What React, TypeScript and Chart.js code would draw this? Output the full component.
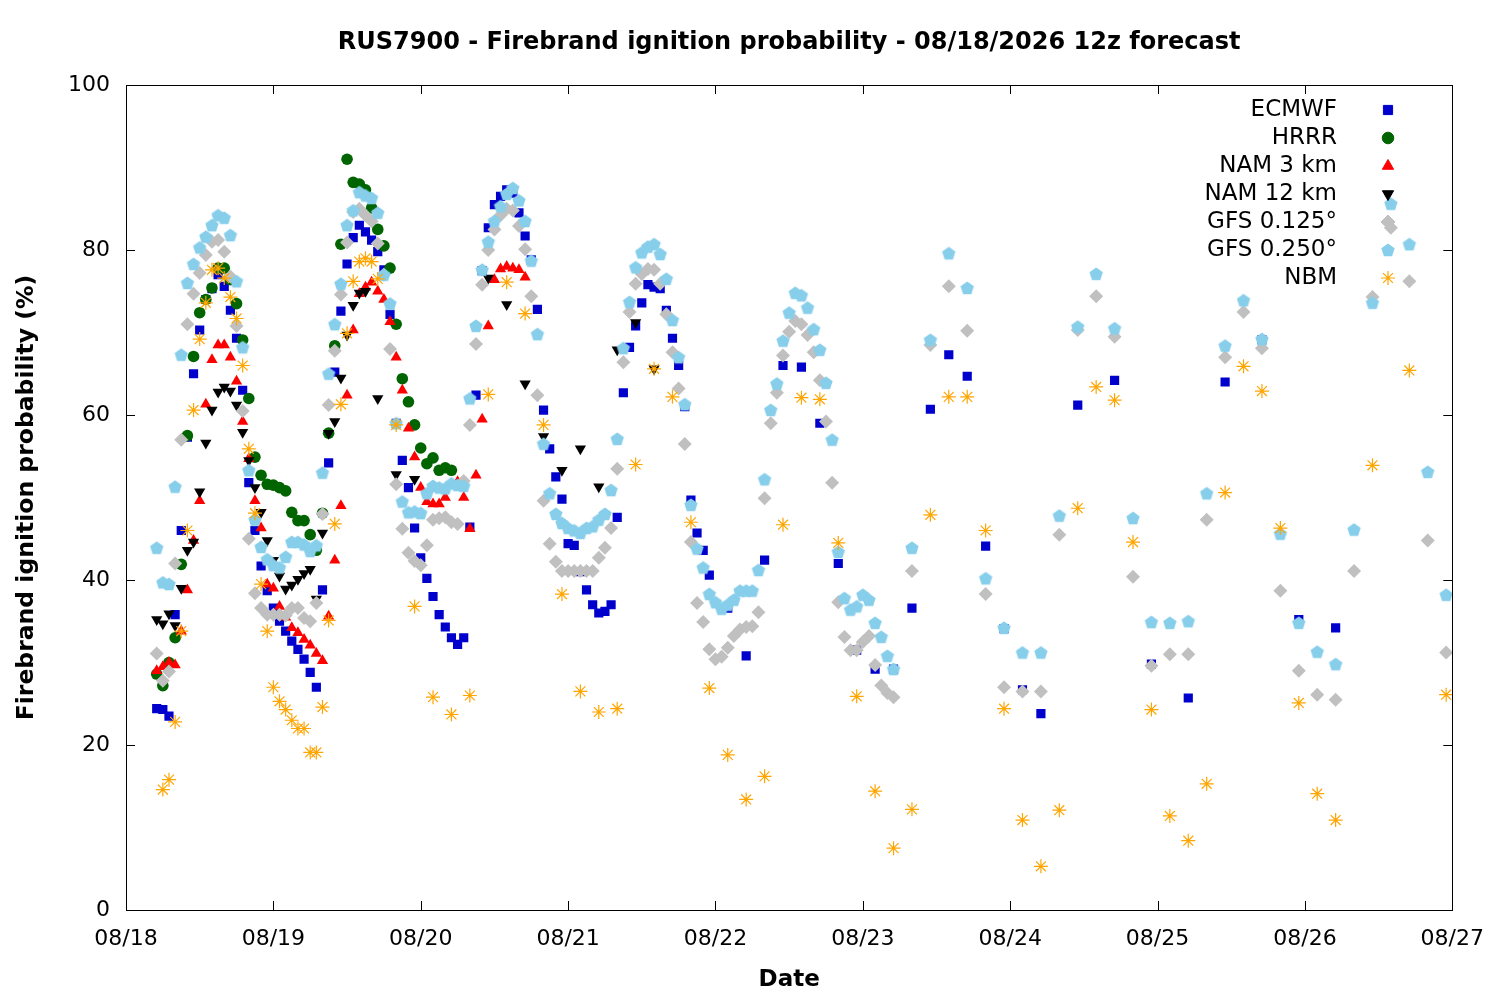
import React, { useEffect, useRef } from "react";
import { Chart, registerables } from "chart.js";
import { drawPoint } from "chart.js/helpers";

Chart.register(...registerables);

const range = (start: number, step: number, n: number) => Array.from({ length: n }, (_, i) => start + i * step);

const TITLE = "RUS7900 - Firebrand ignition probability - 08/18/2026 12z forecast";
const DATE_LABELS = ["08/18", "08/19", "08/20", "08/21", "08/22", "08/23", "08/24", "08/25", "08/26", "08/27"];
const Y_TICKS = [0, 20, 40, 60, 80, 100];

const ECMWF_HOURS = [...range(5, 1, 91), ...range(98, 3, 18), ...range(155, 6, 8)];
const ECMWF = [
  24.4, 24.3, 23.5, 35.8, 46, 57.3, 65, 70.3, 74, 75.3,
  77, 75.6, 72.7, 69.3, 63, 51.8, 46, 41.7, 38.7, 36.6,
  35, 33.8, 32.6, 31.6, 30.4, 28.8, 27, 38.8, 54.2, 65.2,
  72.6, 78.3, 81.5, 83, 82.2, 81.2, 79.8, 77.6, 72.2, 59,
  54.5, 51.2, 46.3, 42.7, 40.2, 38, 35.8, 34.3, 33, 32.2,
  33, 46.4, 62.4, 77.5, 82.7, 85.5, 86.5, 87.3, 86.9, 84.5,
  81.7, 78.8, 72.8, 60.6, 55.9, 52.5, 49.8, 44.4,
  44.2, 41, 38.8, 37, 36, 36.2, 37, 47.6, 62.7, 68.2, 70.8, 73.6, 75.8, 75.5, 75.3, 72.7, 69.3, 66, 61, 49.7, 45.7, 43.6, 40.6,
  36.6, 30.8, 42.4, 66, 65.8, 59, 42, 31.5, 29.2, 29.2, 36.6, 60.7, 67.3, 64.7, 44.1, 34.1, 26.7, 23.8,
  61.2, 64.2, 29.8, 25.7, 64, 69.1, 35.2, 34.2,
];

const HRRR_HOURS = range(5, 1, 49);
const HRRR = [
  28.6, 27.2, 30, 33, 41.9, 57.5, 67.1, 72.4, 74, 75.4,
  77.8, 77.8, 76.4, 73.5, 69.1, 62, 54.9, 52.7, 51.6, 51.5,
  51.2, 50.8, 48.2, 47.2, 47.2, 45.5, 43.6, 48.1, 57.8, 68.4,
  80.7, 91, 88.2, 88, 87.3, 85.1, 82.5, 80.5, 77.8, 71,
  64.4, 61.6, 58.8, 56, 54.1, 54.8, 53.3, 53.6, 53.3,
];

const NAM3_HOURS = range(5, 1, 61);
const NAM3 = [
  29, 29.5, 30, 29.7, 33.8, 38.8, 44.8, 49.6, 61.3, 66.7,
  68.5, 68.5, 67, 64.1, 59.2, 54.7, 49.6, 46.3, 39.5, 39,
  36.8, 35.5, 34.2, 33.6, 32.8, 32.1, 31.1, 30.2, 35.6, 42.4,
  49, 62.4, 70.3, 74.7, 75.5, 76.1, 75, 74, 71.3, 67,
  63, 58.4, 54.9, 51.2, 49.5, 49.2, 49.2, 50, 51.6, 51.9,
  50, 46.2, 52.7, 59.5, 70.8, 76.4, 77.7, 78, 77.8, 77.6, 76.7,
];

const NAM12_HOURS = [...range(5, 1, 35), 41, 44, 47, 59, 62, 65, 68, 71, 74, 77, 80, 83, 86];
const NAM12 = [
  35.2, 34.7, 35.9, 34.5, 39, 43.6, 44.6, 50.7, 56.6, 60.6,
  62.8, 63.4, 62.9, 61.2, 57.9, 54.5, 51.2, 48.2, 44.8, 42.4,
  40.5, 38.9, 39.4, 40.1, 40.8, 41.3, 37.7, 45.7, 57.8, 59.2,
  64.5, 69.7, 73.3, 74.8, 75,
  62, 52.8, 52.2, 76.6, 73.4, 63.8, 57.4, 53.3, 55.9, 51.3, 67.9, 71.2, 65.6,
];

const GFS_HOURS = [...range(5, 1, 121), ...range(128, 3, 30)];
const GFS0125 = [
  31.1, 27.8, 28.9, 42, 57, 71, 74.7, 77.2, 79.4, 81,
  81.2, 79.8, 76.8, 70.8, 60.5, 45, 38.4, 36.6, 35.8, 35.8,
  35.8, 35.7, 36.6, 36.6, 35.4, 35, 37.2, 48, 61.2, 67.8,
  74.6, 80.9, 84.6, 85, 84.2, 83.5, 80.8, 77, 68, 51.6,
  46.2, 43.3, 42.3, 41.8, 44.2, 47.3, 47.5, 47.6, 47, 46.8,
  52, 58.8, 68.6, 75.8, 80, 82.5, 84.2, 85, 84.8, 82.9,
  80.1, 74.4, 62.4, 49.6, 44.4, 42.2, 41.1, 41.1, 41.1, 41.1,
  41.1, 41.1, 42.7, 43.9, 46.3, 53.5, 66.4, 72.5, 75.9, 77.1,
  77.7, 77.6, 75.9, 72.2, 67.6, 63.2, 56.5, 44.6, 37.2, 34.9,
  31.6, 30.4, 30.7, 31.8, 33.2, 34, 34.3, 34.4, 36.1, 49.9,
  59, 62.7, 67.2, 70.1, 71.4, 71, 69.7, 67.6, 64.2, 59.2,
  51.8, 37.3, 33.1, 31.5, 31.5, 32.5, 33.2, 29.7, 27.2, 26.3,
  25.8,
  41.1, 68.5, 75.6, 70.2, 38.3, 27, 26.5, 26.5, 45.5, 70.3,
  74.4, 69.5, 40.4, 29.6, 31, 31, 47.3, 67, 72.5, 68.1,
  38.7, 29, 26.1, 25.5, 41.1, 74.3, 82.7, 76.2, 44.8, 31.2,
];
const GFS0250 = [
  43.9, 39.7, 39.5, 51.3, 67.3, 76, 78.3, 80.3, 81.6, 83,
  84.2, 83.9, 81.8, 76.2, 68.2, 53.3, 47.3, 44, 42.5, 41.8,
  41.5, 42.8, 44.6, 44.6, 44.3, 43.5, 44.2, 53, 65, 71,
  75.9, 83, 84.8, 87, 86.6, 86.3, 84.5, 77, 73.5, 59,
  49.5, 48.2, 48.3, 48.1, 50.5, 51.4, 51.2, 51.1, 51.7, 51.5,
  51.4, 62, 70.8, 77.6, 81, 83.5, 85.3, 86.8, 87.5, 86,
  83.5, 78.7, 69.8, 56.5, 50.5, 48, 46.9, 46.3, 46, 45.7,
  46.3, 46.5, 47.3, 48, 50.9, 57.1, 68.1, 73.7, 77.9, 79.7,
  80.4, 80.7, 79.5, 76.5, 71.5, 67, 61.3, 49.1, 43.8, 41.5,
  38.3, 37.3, 36.5, 37, 37.6, 38.7, 38.7, 38.7, 41.2, 52.2,
  60.6, 63.8, 69, 72.4, 74.8, 74.5, 73, 70.4, 67.9, 63.9,
  57, 43.4, 37.8, 36.4, 36.8, 38.2, 37.6, 34.8, 33.1, 30.8,
  29.2,
  43.9, 69.1, 79.6, 75.4, 40.2, 34.2, 31.2, 31.2, 47.8, 70.7,
  77.1, 70.5, 47.5, 34.9, 34.8, 35, 50.5, 68.4, 73.9, 69.2,
  45.6, 34.8, 31.3, 29.8, 46.1, 73.6, 85.6, 80.7, 53.1, 38.2,
];

const NBM_HOURS = [...range(6, 1, 36), ...range(44, 3, 52), 203, 209, 215];
const NBM = [
  14.6, 15.8, 22.8, 33.8, 46, 60.6, 69.2, 73.6, 77.6, 77.8,
  76.6, 74.3, 71.7, 66, 55.9, 48.1, 39.5, 33.8, 27, 25.3,
  24.3, 23, 22, 22, 19.1, 19.1, 24.6, 35.1, 46.8, 61.3,
  69.9, 76.2, 78.6, 79, 78.6, 76.5,
  58.8, 36.8, 25.8, 23.7, 26, 62.5, 76.1, 72.3, 58.8, 38.3,
  26.5, 24, 24.4, 54, 65.6, 62.2, 47, 26.9, 18.8, 13.4,
  16.2, 46.7, 62.1, 61.9, 44.5, 25.9, 14.4, 7.5, 12.2, 47.9,
  62.2, 62.2, 46, 24.4, 10.9, 5.3, 12.1, 48.7, 63.4, 61.8,
  44.6, 24.3, 11.4, 8.4, 15.3, 50.6, 65.9, 62.9, 46.3, 25.1,
  14.1, 10.9,
  53.9, 65.4, 26.1,
];

const FONT = "'DejaVu Sans', sans-serif";

function makePentagon(color: string, r: number) {
  const c = document.createElement("canvas");
  const s = Math.ceil(r * 2 + 2);
  c.width = s;
  c.height = s;
  const ctx = c.getContext("2d")!;
  ctx.fillStyle = color;
  ctx.beginPath();
  for (let i = 0; i < 5; i++) {
    const a = -Math.PI / 2 + (i * 2 * Math.PI) / 5;
    const px = s / 2 + r * Math.cos(a);
    const py = s / 2 + r * Math.sin(a) + 0.5;
    if (i === 0) ctx.moveTo(px, py);
    else ctx.lineTo(px, py);
  }
  ctx.closePath();
  ctx.fill();
  return c;
}

export default function App() {
  const ref = useRef<HTMLCanvasElement>(null);
  useEffect(() => {
    document.body.style.margin = "0";
    const pent = makePentagon("#87ceeb", 7);
    const pts = (h: number[], v: number[]) => v.map((y, i) => ({ x: h[i], y }));
    const series = [
      { label: "ECMWF", data: pts(ECMWF_HOURS, ECMWF), pointStyle: "rect", radius: 6.5, color: "#0000cd", rotation: 0 },
      { label: "HRRR", data: pts(HRRR_HOURS, HRRR), pointStyle: "circle", radius: 5.8, color: "#006400", rotation: 0 },
      { label: "NAM 3 km", data: pts(NAM3_HOURS, NAM3), pointStyle: "triangle", radius: 6.5, color: "#ff0000", rotation: 0 },
      { label: "NAM 12 km", data: pts(NAM12_HOURS, NAM12), pointStyle: "triangle", radius: 6.5, color: "#000000", rotation: 180 },
      { label: "GFS 0.125°", data: pts(GFS_HOURS, GFS0125), pointStyle: "rectRot", radius: 7, color: "#c0c0c0", rotation: 0 },
      { label: "GFS 0.250°", data: pts(GFS_HOURS, GFS0250), pointStyle: pent as any, radius: 7, color: "#87ceeb", rotation: 0 },
      { label: "NBM", data: pts(NBM_HOURS, NBM), pointStyle: "star", radius: 7, color: "#ffa500", rotation: 0 },
    ];
    const datasets = series.map((s, i) => ({
      label: s.label,
      data: s.data,
      showLine: false,
      pointStyle: s.pointStyle,
      pointRadius: s.radius,
      pointRotation: s.rotation,
      pointBackgroundColor: s.color,
      pointBorderColor: s.color,
      pointBorderWidth: s.pointStyle === "star" ? 1.2 : 0,
      order: series.length - i,
    }));

    const frame = {
      id: "frame",
      afterDraw(chart: any) {
        const { ctx, chartArea: a, scales } = chart;
        ctx.save();
        ctx.strokeStyle = "#000";
        ctx.lineWidth = 1;
        ctx.strokeRect(Math.round(a.left) + 0.5, Math.round(a.top) + 0.5, Math.round(a.right - a.left), Math.round(a.bottom - a.top));
        const tl = 9;
        ctx.beginPath();
        for (let d = 0; d <= 216; d += 24) {
          const x = Math.round(scales.x.getPixelForValue(d)) + 0.5;
          ctx.moveTo(x, a.bottom); ctx.lineTo(x, a.bottom - tl);
          ctx.moveTo(x, a.top); ctx.lineTo(x, a.top + tl);
        }
        for (const v of Y_TICKS) {
          const y = Math.round(scales.y.getPixelForValue(v)) + 0.5;
          ctx.moveTo(a.left, y); ctx.lineTo(a.left + tl, y);
          ctx.moveTo(a.right, y); ctx.lineTo(a.right - tl, y);
        }
        ctx.stroke();
        ctx.fillStyle = "#000";
        ctx.font = `bold 24px ${FONT}`;
        ctx.textAlign = "center";
        ctx.textBaseline = "middle";
        ctx.fillText(TITLE, (a.left + a.right) / 2, 43);
        ctx.font = `23px ${FONT}`;
        ctx.textAlign = "right";
        series.forEach((s, i) => {
          const y = 110 + i * 28;
          ctx.fillStyle = "#000";
          ctx.fillText(s.label, 1337, y);
          ctx.fillStyle = s.color;
          ctx.strokeStyle = s.color;
          ctx.lineWidth = s.pointStyle === "star" ? 1.2 : 0;
          drawPoint(ctx, { pointStyle: s.pointStyle as any, radius: s.radius, rotation: s.rotation, borderWidth: ctx.lineWidth }, 1388, y);
        });
        ctx.restore();
      },
    };

    const chart = new Chart(ref.current!, {
      type: "scatter",
      data: { datasets: datasets as any },
      options: {
        animation: false,
        responsive: false,
        devicePixelRatio: 1,
        layout: { padding: { top: 85, right: 46, left: 0, bottom: 0 } },
        plugins: { legend: { display: false }, tooltip: { enabled: false }, title: { display: false } },
        scales: {
          x: {
            type: "linear",
            min: 0,
            max: 216,
            grid: { display: false, drawTicks: false },
            border: { display: false },
            afterFit: (s: any) => { s.height = 90; },
            ticks: {
              stepSize: 24,
              padding: 16,
              color: "#000",
              font: { family: FONT, size: 22 },
              maxRotation: 0,
              autoSkip: false,
              callback: (v: any) => DATE_LABELS[Math.round(Number(v) / 24)] ?? "",
            },
            title: { display: true, text: "Date", color: "#000", font: { family: FONT, size: 23, weight: "bold" }, padding: { top: 0, bottom: 6 } },
          },
          y: {
            min: 0,
            max: 100,
            grid: { display: false, drawTicks: false },
            border: { display: false },
            afterFit: (s: any) => { s.width = 126; },
            ticks: { stepSize: 20, padding: 16, color: "#000", font: { family: FONT, size: 22 } },
            title: { display: true, text: "Firebrand ignition probability (%)", color: "#000", font: { family: FONT, size: 23.5, weight: "bold" }, padding: { top: 13, bottom: 0 } },
          },
        },
      },
      plugins: [frame],
    });
    return () => chart.destroy();
  }, []);
  return <canvas ref={ref} width={1500} height={1000} style={{ display: "block" }} />;
}
